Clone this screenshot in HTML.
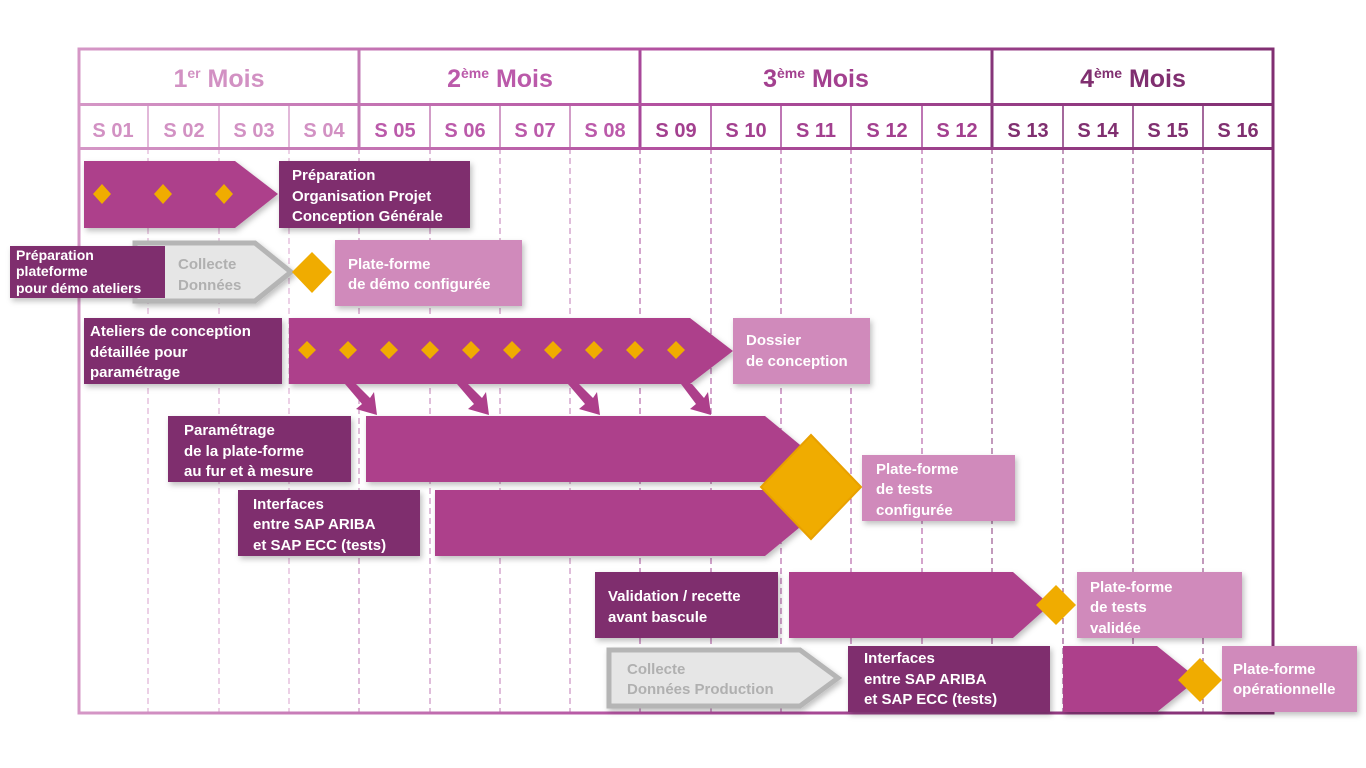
<!DOCTYPE html>
<html><head><meta charset="utf-8"><style>
html,body{margin:0;padding:0;background:#fff;}
svg{display:block;font-family:"Liberation Sans",Arial,sans-serif;}
.t{font-weight:bold;font-size:15px;fill:#fff;}
.g{font-weight:bold;font-size:15px;fill:#b0b0b0;}
.w{font-size:20px;font-weight:bold;}
.m{font-size:25px;font-weight:bold;}
</style></head><body>
<svg width="1366" height="768" viewBox="0 0 1366 768" xmlns="http://www.w3.org/2000/svg">
<defs>
<linearGradient id="fr" gradientUnits="userSpaceOnUse" x1="78" x2="1274" y1="0" y2="0">
<stop offset="0" stop-color="#d597c6"/><stop offset="0.5" stop-color="#b24f9f"/><stop offset="1" stop-color="#812f72"/>
</linearGradient>
<filter id="sh" x="-10%" y="-10%" width="130%" height="140%"><feDropShadow dx="2" dy="3" stdDeviation="3" flood-opacity="0.25"/></filter>
</defs>
<g stroke-width="1" stroke-dasharray="6,4">
<line x1="148" y1="148" x2="148" y2="714" stroke="#d8a0cc"/>
<line x1="219" y1="148" x2="219" y2="714" stroke="#d8a0cc"/>
<line x1="289" y1="148" x2="289" y2="714" stroke="#d8a0cc"/>
<line x1="359" y1="148" x2="359" y2="714" stroke="#c27ab4"/>
<line x1="430" y1="148" x2="430" y2="714" stroke="#c27ab4"/>
<line x1="500" y1="148" x2="500" y2="714" stroke="#c27ab4"/>
<line x1="570" y1="148" x2="570" y2="714" stroke="#c27ab4"/>
<line x1="640" y1="148" x2="640" y2="714" stroke="#a8489a"/>
<line x1="711" y1="148" x2="711" y2="714" stroke="#a8489a"/>
<line x1="781" y1="148" x2="781" y2="714" stroke="#a8489a"/>
<line x1="851" y1="148" x2="851" y2="714" stroke="#a8489a"/>
<line x1="922" y1="148" x2="922" y2="714" stroke="#a8489a"/>
<line x1="992" y1="148" x2="992" y2="714" stroke="#86357a"/>
<line x1="1063" y1="148" x2="1063" y2="714" stroke="#86357a"/>
<line x1="1133" y1="148" x2="1133" y2="714" stroke="#86357a"/>
<line x1="1203" y1="148" x2="1203" y2="714" stroke="#86357a"/>
</g>
<g stroke-width="1.5">
<line x1="148" y1="104" x2="148" y2="148" stroke="#d8a0cc"/>
<line x1="219" y1="104" x2="219" y2="148" stroke="#d8a0cc"/>
<line x1="289" y1="104" x2="289" y2="148" stroke="#d8a0cc"/>
<line x1="430" y1="104" x2="430" y2="148" stroke="#c27ab4"/>
<line x1="500" y1="104" x2="500" y2="148" stroke="#c27ab4"/>
<line x1="570" y1="104" x2="570" y2="148" stroke="#c27ab4"/>
<line x1="711" y1="104" x2="711" y2="148" stroke="#a8489a"/>
<line x1="781" y1="104" x2="781" y2="148" stroke="#a8489a"/>
<line x1="851" y1="104" x2="851" y2="148" stroke="#a8489a"/>
<line x1="922" y1="104" x2="922" y2="148" stroke="#a8489a"/>
<line x1="1063" y1="104" x2="1063" y2="148" stroke="#86357a"/>
<line x1="1133" y1="104" x2="1133" y2="148" stroke="#86357a"/>
<line x1="1203" y1="104" x2="1203" y2="148" stroke="#86357a"/>
</g>
<g stroke-width="3">
<line x1="359" y1="48" x2="359" y2="148" stroke="#c27ab4"/>
<line x1="640" y1="48" x2="640" y2="148" stroke="#a8489a"/>
<line x1="992" y1="48" x2="992" y2="148" stroke="#86357a"/>
</g>
<rect x="79" y="49" width="1194" height="664" fill="none" stroke="url(#fr)" stroke-width="3"/>
<rect x="79" y="103" width="1194" height="3" fill="url(#fr)"/>
<rect x="79" y="147" width="1194" height="3" fill="url(#fr)"/>
<text class="m" x="219" y="87" text-anchor="middle" fill="#d291c3">1<tspan font-size="14" dy="-9">er</tspan><tspan dy="9"> Mois</tspan></text>
<text class="m" x="500" y="87" text-anchor="middle" fill="#bb5aaa">2<tspan font-size="14" dy="-9">ème</tspan><tspan dy="9"> Mois</tspan></text>
<text class="m" x="816" y="87" text-anchor="middle" fill="#a3408f">3<tspan font-size="14" dy="-9">ème</tspan><tspan dy="9"> Mois</tspan></text>
<text class="m" x="1133" y="87" text-anchor="middle" fill="#802f70">4<tspan font-size="14" dy="-9">ème</tspan><tspan dy="9"> Mois</tspan></text>
<g class="w" text-anchor="middle">
<text x="113" y="137" fill="#d291c3">S 01</text>
<text x="184" y="137" fill="#d291c3">S 02</text>
<text x="254" y="137" fill="#d291c3">S 03</text>
<text x="324" y="137" fill="#d291c3">S 04</text>
<text x="395" y="137" fill="#bb5aaa">S 05</text>
<text x="465" y="137" fill="#bb5aaa">S 06</text>
<text x="535" y="137" fill="#bb5aaa">S 07</text>
<text x="605" y="137" fill="#bb5aaa">S 08</text>
<text x="676" y="137" fill="#a3408f">S 09</text>
<text x="746" y="137" fill="#a3408f">S 10</text>
<text x="816" y="137" fill="#a3408f">S 11</text>
<text x="887" y="137" fill="#a3408f">S 12</text>
<text x="957" y="137" fill="#a3408f">S 12</text>
<text x="1028" y="137" fill="#802f70">S 13</text>
<text x="1098" y="137" fill="#802f70">S 14</text>
<text x="1168" y="137" fill="#802f70">S 15</text>
<text x="1238" y="137" fill="#802f70">S 16</text>
</g>

<g filter="url(#sh)">
<polygon points="84,161 235,161 278,194 235,228 84,228" fill="#ad3f8b"/>
<rect x="279" y="161" width="191" height="67" fill="#7f2f6e"/>
<polygon points="135,243 255,243 291,272 255,301 135,301" fill="#e6e6e6" stroke="#b5b5b5" stroke-width="5"/>
<rect x="10" y="246" width="155" height="52" fill="#7f2f6e"/>
<rect x="335" y="240" width="187" height="66" fill="#d08abb"/>
<rect x="84" y="318" width="198" height="66" fill="#7f2f6e"/>
<polygon points="289,318 690,318 733,351 690,384 289,384" fill="#ad3f8b"/>
<rect x="733" y="318" width="137" height="66" fill="#d08abb"/>
<rect x="168" y="416" width="183" height="66" fill="#7f2f6e"/>
<polygon points="366,416 765,416 805,449 765,482 366,482" fill="#ad3f8b"/>
<rect x="238" y="490" width="182" height="66" fill="#7f2f6e"/>
<polygon points="435,490 765,490 805,523 765,556 435,556" fill="#ad3f8b"/>
<rect x="862" y="455" width="153" height="66" fill="#d08abb"/>
<rect x="595" y="572" width="183" height="66" fill="#7f2f6e"/>
<polygon points="789,572 1013,572 1050,605 1013,638 789,638" fill="#ad3f8b"/>
<rect x="1077" y="572" width="165" height="66" fill="#d08abb"/>
<polygon points="609,650 800,650 838,678 800,706 609,706" fill="#e6e6e6" stroke="#b5b5b5" stroke-width="5"/>
<rect x="848" y="646" width="202" height="66" fill="#7f2f6e"/>
<polygon points="1063,646 1157,646 1198,679 1157,712 1063,712" fill="#ad3f8b"/>
<rect x="1222" y="646" width="135" height="66" fill="#d08abb"/>
</g>
<g fill="#ad3f8b">
<polygon points="345,384 356,384 370,398 374,392 377,415 356,409 362,404"/>
<polygon points="457,384 468,384 482,398 486,392 489,415 468,409 474,404"/>
<polygon points="568,384 579,384 593,398 597,392 600,415 579,409 585,404"/>
<polygon points="681,384 692,384 704,398 708,392 711,415 690,409 696,404"/>
</g>
<g fill="#f0ac00">
<polygon points="102,184 111,194 102,204 93,194"/>
<polygon points="163,184 172,194 163,204 154,194"/>
<polygon points="224,184 233,194 224,204 215,194"/>
<polygon points="312,252 332,272 312,293 292,272"/>
<polygon points="307,341 316,350 307,359 298,350"/>
<polygon points="348,341 357,350 348,359 339,350"/>
<polygon points="389,341 398,350 389,359 380,350"/>
<polygon points="430,341 439,350 430,359 421,350"/>
<polygon points="471,341 480,350 471,359 462,350"/>
<polygon points="512,341 521,350 512,359 503,350"/>
<polygon points="553,341 562,350 553,359 544,350"/>
<polygon points="594,341 603,350 594,359 585,350"/>
<polygon points="635,341 644,350 635,359 626,350"/>
<polygon points="676,341 685,350 676,359 667,350"/>
<polygon points="811,435 861,487 811,539 761,487" stroke="#e8a000" stroke-width="2"/>
<polygon points="1056,585 1076,605 1056,625 1036,605"/>
<polygon points="1200,658 1222,680 1200,702 1178,680"/>
</g>
<g class="t">
<text x="292" y="180">Préparation</text>
<text x="292" y="201">Organisation Projet</text>
<text x="292" y="221">Conception Générale</text>
<text x="16" y="260" font-size="14">Préparation</text>
<text x="16" y="276" font-size="14">plateforme</text>
<text x="16" y="293" font-size="14">pour démo ateliers</text>
<text x="348" y="269">Plate-forme</text>
<text x="348" y="289">de démo configurée</text>
<text x="90" y="336">Ateliers de conception</text>
<text x="90" y="357">détaillée pour</text>
<text x="90" y="377">paramétrage</text>
<text x="746" y="345">Dossier</text>
<text x="746" y="366">de conception</text>
<text x="184" y="435">Paramétrage</text>
<text x="184" y="456">de la plate-forme</text>
<text x="184" y="476">au fur et à mesure</text>
<text x="253" y="509">Interfaces</text>
<text x="253" y="529">entre SAP ARIBA</text>
<text x="253" y="550">et SAP ECC (tests)</text>
<text x="876" y="474">Plate-forme</text>
<text x="876" y="494">de tests</text>
<text x="876" y="515">configurée</text>
<text x="608" y="601">Validation / recette</text>
<text x="608" y="622">avant bascule</text>
<text x="1090" y="592">Plate-forme</text>
<text x="1090" y="612">de tests</text>
<text x="1090" y="633">validée</text>
<text x="864" y="663">Interfaces</text>
<text x="864" y="684">entre SAP ARIBA</text>
<text x="864" y="704">et SAP ECC (tests)</text>
<text x="1233" y="674">Plate-forme</text>
<text x="1233" y="694">opérationnelle</text>
</g>
<g class="g">
<text x="178" y="269">Collecte</text>
<text x="178" y="290">Données</text>
<text x="627" y="674">Collecte</text>
<text x="627" y="694">Données Production</text>
</g>
</svg>
</body></html>
